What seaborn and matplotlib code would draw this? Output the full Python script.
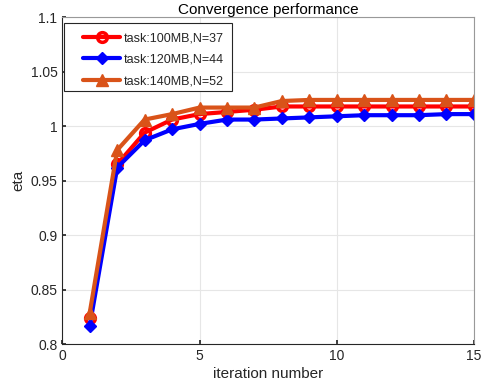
import matplotlib
matplotlib.use("Agg")
import matplotlib.pyplot as plt
from matplotlib.patches import Rectangle
import seaborn as sns
import pandas as pd
import numpy as np

iterations = list(range(1, 16))
series_names = ["task:100MB,N=37", "task:120MB,N=44", "task:140MB,N=52"]
eta_100 = [0.824, 0.965, 0.994, 1.006, 1.011, 1.013, 1.015, 1.018, 1.018, 1.018, 1.018, 1.018, 1.018, 1.018, 1.018]
eta_120 = [0.817, 0.962, 0.987, 0.997, 1.002, 1.006, 1.006, 1.007, 1.008, 1.009, 1.010, 1.010, 1.010, 1.011, 1.011]
eta_140 = [0.829, 0.978, 1.006, 1.011, 1.017, 1.017, 1.017, 1.023, 1.024, 1.024, 1.024, 1.024, 1.024, 1.024, 1.024]
y_ticks = [0.8, 0.85, 0.9, 0.95, 1.0, 1.05, 1.1]
y_tick_labels = ["0.8", "0.85", "0.9", "0.95", "1", "1.05", "1.1"]
x_ticks = [0, 5, 10, 15]

df = pd.DataFrame({
    "iteration": iterations * 3,
    "eta": eta_100 + eta_120 + eta_140,
    "series": [series_names[0]] * 15 + [series_names[1]] * 15 + [series_names[2]] * 15,
})

sns.set_theme(style="white")
plt.rcParams['font.family'] = ['Liberation Sans', 'DejaVu Sans']

fig = plt.figure(figsize=(4.87, 3.88), dpi=100)
ax = fig.add_axes([0.128, 0.113, 0.845, 0.843])

palette = {series_names[0]: (1, 0, 0), series_names[1]: (0, 0, 1), series_names[2]: (0.85, 0.325, 0.098)}
markers = {series_names[0]: "o", series_names[1]: "D", series_names[2]: "^"}
sizes_m = {series_names[0]: 7, series_names[1]: 6, series_names[2]: 9}

for name in series_names:
    sub = df[df.series == name]
    kw = dict(markerfacecolor="none", markeredgewidth=2.5) if name == series_names[0] else dict(markeredgewidth=1)
    sns.lineplot(data=sub, x="iteration", y="eta", ax=ax, color=palette[name], marker=markers[name],
                 markersize=sizes_m[name], linewidth=3, label=name, markeredgecolor=palette[name], **kw)

ax.set_xlim(0, 15)
ax.set_ylim(0.8, 1.1)
ax.set_xticks(x_ticks)
ax.set_xticklabels([str(t) for t in x_ticks])
ax.set_yticks(y_ticks)
ax.set_yticklabels(y_tick_labels)
ax.grid(True, color=(0.9, 0.9, 0.9), linewidth=0.8)
ax.set_axisbelow(True)
for s in ax.spines.values():
    s.set_color((0.15, 0.15, 0.15))
    s.set_linewidth(0.8)
ax.spines['top'].set_color((0.6, 0.6, 0.6))
ax.spines['right'].set_color((0.6, 0.6, 0.6))
ax.tick_params(direction="in", length=3, labelsize=10, colors=(0.15, 0.15, 0.15), left=True, bottom=True)
ax.set_xlabel("iteration number", fontsize=11, color=(0.15, 0.15, 0.15), labelpad=3)
ax.set_ylabel("eta", fontsize=11, color=(0.15, 0.15, 0.15), labelpad=4)
ax.set_title("Convergence performance", fontsize=11, color="black", pad=2)

# legend box frame (MATLAB style, white background with dark edge)
ax.add_patch(Rectangle((0.004, 0.774), 0.408, 0.208, transform=ax.transAxes, facecolor="white",
                       edgecolor=(0.15, 0.15, 0.15), linewidth=0.8, zorder=4))
leg = ax.legend(loc="upper left", bbox_to_anchor=(0.05, 0.954), fontsize=9, frameon=False,
                borderaxespad=0.0, handlelength=3.0, labelspacing=0.78,
                borderpad=0.0, handletextpad=0.3)
leg.set_zorder(5)

fig.savefig("out.png", dpi=100)
